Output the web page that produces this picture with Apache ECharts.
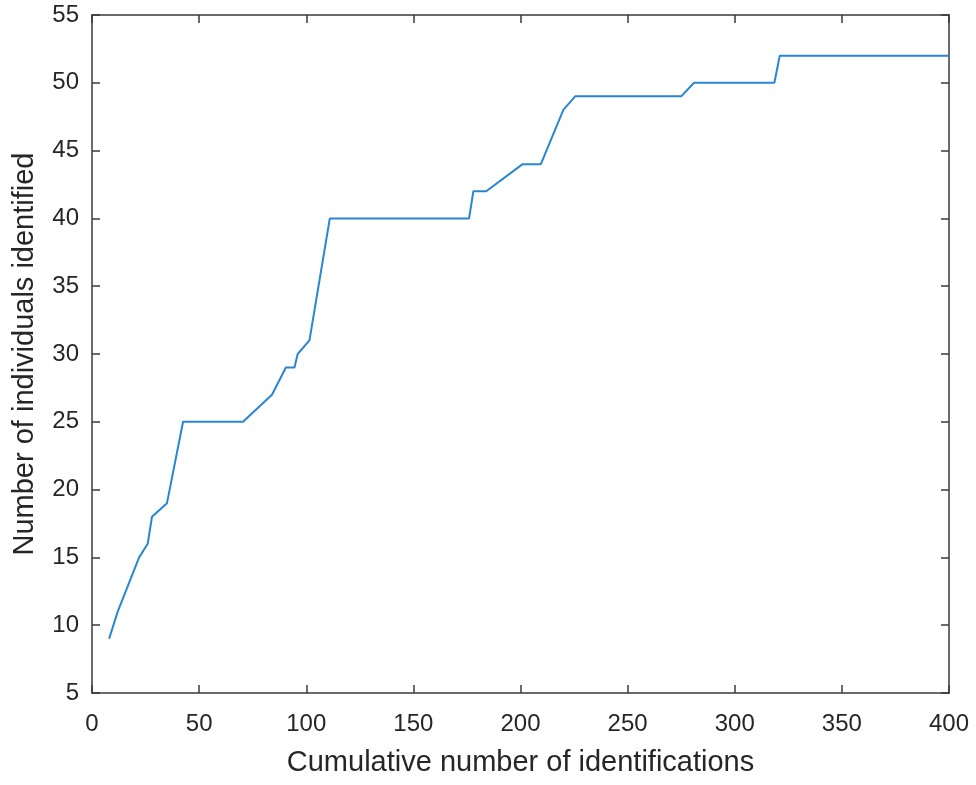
<!DOCTYPE html>
<html>
<head>
<meta charset="utf-8">
<script src="https://cdn.jsdelivr.net/npm/echarts@6/dist/echarts.min.js"></script>
<style>
html,body{margin:0;padding:0;background:#fff;}
#chart{width:976px;height:785px;}
</style>
</head>
<body>
<div id="chart"></div>
<script>
// Data
const xValues = [8, 12, 22, 26, 28, 35, 42.5, 70.5, 84, 90.5, 94.5, 96, 101.5, 111, 176, 178, 184, 201, 209.5, 220, 225.5, 275, 281, 318.5, 321, 400];
const yValues = [9, 11, 15, 16, 18, 19, 25, 25, 27, 29, 29, 30, 31, 40, 40, 42, 42, 44, 44, 48, 49, 49, 50, 50, 52, 52];
const xTitle = 'Cumulative number of identifications';
const yTitle = 'Number of individuals identified';
const xRange = [0, 400, 50];
const yRange = [5, 55, 5];

const points = xValues.map((x, i) => [x, yValues[i]]);
const fontFamily = 'Liberation Sans, Arial, Helvetica, sans-serif';
const textColor = '#262626';
const axisColor = '#3a3a3a';

const axisLineStyle = { show: true, onZero: false, lineStyle: { color: axisColor, width: 1.5 } };
const axisTickStyle = { show: true, inside: true, length: 8, lineStyle: { color: axisColor, width: 1.5 } };

const chart = echarts.init(document.getElementById('chart'), null, { renderer: 'canvas' });
chart.setOption({
  backgroundColor: '#ffffff',
  animation: false,
  grid: { left: 92, right: 27, top: 15, bottom: 92, containLabel: false },
  xAxis: [
    {
      type: 'value', min: xRange[0], max: xRange[1], interval: xRange[2],
      position: 'bottom',
      name: xTitle, nameLocation: 'middle', nameGap: 55,
      nameTextStyle: { fontFamily, fontSize: 29, color: textColor },
      axisLine: axisLineStyle, axisTick: axisTickStyle,
      axisLabel: { fontFamily, fontSize: 24, color: textColor, margin: 19 },
      splitLine: { show: false }
    },
    {
      type: 'value', min: xRange[0], max: xRange[1], interval: xRange[2],
      position: 'top',
      axisLine: axisLineStyle, axisTick: axisTickStyle,
      axisLabel: { show: false }, splitLine: { show: false }
    }
  ],
  yAxis: [
    {
      type: 'value', min: yRange[0], max: yRange[1], interval: yRange[2],
      position: 'left',
      name: yTitle, nameLocation: 'middle', nameGap: 53, nameRotate: 90,
      nameTextStyle: { fontFamily, fontSize: 29, color: textColor },
      axisLine: axisLineStyle, axisTick: axisTickStyle,
      axisLabel: { fontFamily, fontSize: 24, color: textColor, margin: 13, padding: [4, 0, 0, 0] },
      splitLine: { show: false }
    },
    {
      type: 'value', min: yRange[0], max: yRange[1], interval: yRange[2],
      position: 'right',
      axisLine: axisLineStyle, axisTick: axisTickStyle,
      axisLabel: { show: false }, splitLine: { show: false }
    }
  ],
  series: [
    {
      type: 'line',
      xAxisIndex: 0, yAxisIndex: 0,
      data: points,
      showSymbol: false,
      symbol: 'none',
      lineStyle: { color: '#2886d2', width: 2 },
      clip: true
    }
  ]
});
</script>
</body>
</html>
